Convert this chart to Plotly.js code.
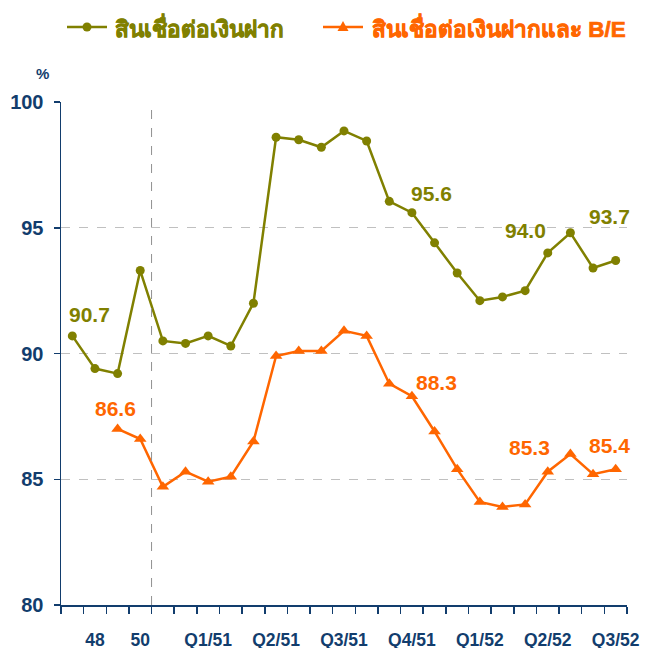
<!DOCTYPE html>
<html>
<head>
<meta charset="utf-8">
<script src="https://cdn.plot.ly/plotly-3.0.1.min.js"></script>
<style>
html,body{margin:0;padding:0;background:#fff;}
#chart{width:657px;height:648px;}
</style>
</head>
<body>
<div id="chart"></div>
<script>
// ---- data ----
var loanToDeposit = [90.7, 89.4, 89.2, 93.3, 90.5, 90.4, 90.7, 90.3, 92.0, 98.6, 98.5, 98.2, 98.85, 98.45, 96.05, 95.6, 94.4, 93.2, 92.1, 92.25, 92.5, 94.0, 94.8, 93.4, 93.7];
var loanToDepositBE = [null, null, 87.0, 86.6, 84.7, 85.3, 84.9, 85.1, 86.5, 89.9, 90.1, 90.1, 90.9, 90.7, 88.8, 88.3, 86.9, 85.4, 84.1, 83.9, 84.0, 85.3, 86.0, 85.2, 85.4];
var tickLabels = ['48', '50', 'Q1/51', 'Q2/51', 'Q3/51', 'Q4/51', 'Q1/52', 'Q2/52', 'Q3/52'];
var tickIndex = [1, 3, 6, 9, 12, 15, 18, 21, 24];
var seriesNames = ['สินเชื่อต่อเงินฝาก', 'สินเชื่อต่อเงินฝากและ B/E'];
var labelledGreen = [0, 15, 21, 24];
var labelledOrange = [3, 15, 21, 24];

var GREEN = '#808000', ORANGE = '#ff6600', NAVY = '#123d6d';
var FONT = 'Arial, "Liberation Sans", "Noto Sans", sans-serif';

var n = loanToDeposit.length;
var xs = [];
for (var i = 0; i < n; i++) xs.push(i);
var boundaries = [];
for (var j = 0; j <= n; j++) boundaries.push(j - 0.5);

var traces = [
  {x: xs, y: loanToDeposit, type: 'scatter', mode: 'lines+markers',
   name: seriesNames[0],
   line: {color: GREEN, width: 2.5}, marker: {color: GREEN, size: 9, symbol: 'circle'}},
  {x: xs, y: loanToDepositBE, type: 'scatter', mode: 'lines+markers',
   name: seriesNames[1],
   line: {color: ORANGE, width: 2.5}, marker: {color: ORANGE, size: 11, symbol: 'triangle-up'}},
  {x: tickIndex, y: tickIndex.map(function(){return null;}), xaxis: 'x2', yaxis: 'y',
   type: 'scatter', mode: 'markers', showlegend: false, hoverinfo: 'skip'}
];

// data-label offsets (pixels)
var gOff = {0: [17, 21], 15: [20, 19], 21: [-22, 22], 24: [-6, 44]};
var oOff = {3: [-25, 31], 15: [25, 14], 21: [-18, 24], 24: [-6, 24]};
var annotations = [];
labelledGreen.forEach(function(k){
  annotations.push({x: k, y: loanToDeposit[k], xref: 'x', yref: 'y', text: loanToDeposit[k].toFixed(1),
    showarrow: false, xshift: gOff[k][0], yshift: gOff[k][1], font: {family: FONT, size: 21, weight: 'bold', color: GREEN}});
});
labelledOrange.forEach(function(k){
  annotations.push({x: k, y: loanToDepositBE[k], xref: 'x', yref: 'y', text: loanToDepositBE[k].toFixed(1),
    showarrow: false, xshift: oOff[k][0], yshift: oOff[k][1], font: {family: FONT, size: 21, weight: 'bold', color: ORANGE}});
});
annotations.push({xref: 'paper', yref: 'paper', x: 0, y: 1, xanchor: 'right', yanchor: 'bottom',
  xshift: -10, yshift: 18, text: '%', showarrow: false, font: {family: FONT, size: 15, weight: 'bold', color: NAVY}});

// manual legend (pixel offsets from the top-left corner of the plot area)
var LEG_Y = 75;
var legendItems = [
  {name: seriesNames[0], color: GREEN, lineX: 6, textX: 52, symbol: 'circle'},
  {name: seriesNames[1], color: ORANGE, lineX: 262, textX: 309, symbol: 'triangle'}
];
var shapes = [{type: 'line', xref: 'x', yref: 'paper', x0: 3.5, x1: 3.5, y0: 0, y1: 1,
  line: {color: '#909090', width: 1, dash: 'dash'}}];
legendItems.forEach(function(it){
  shapes.push({type: 'line', xref: 'paper', yref: 'paper', xsizemode: 'pixel', ysizemode: 'pixel',
    xanchor: 0, yanchor: 1, x0: it.lineX, x1: it.lineX + 40, y0: LEG_Y, y1: LEG_Y,
    line: {color: it.color, width: 2.5}});
  var cx = it.lineX + 20;
  if (it.symbol === 'circle') {
    shapes.push({type: 'circle', xref: 'paper', yref: 'paper', xsizemode: 'pixel', ysizemode: 'pixel',
      xanchor: 0, yanchor: 1, x0: cx - 4.5, x1: cx + 4.5, y0: LEG_Y - 4.5, y1: LEG_Y + 4.5,
      fillcolor: it.color, line: {width: 0}});
  } else {
    shapes.push({type: 'path', xref: 'paper', yref: 'paper', xsizemode: 'pixel', ysizemode: 'pixel',
      xanchor: 0, yanchor: 1,
      path: 'M' + (cx - 5.5) + ',' + (LEG_Y - 4) + ' L' + (cx + 5.5) + ',' + (LEG_Y - 4) + ' L' + cx + ',' + (LEG_Y + 6) + ' Z',
      fillcolor: it.color, line: {width: 0}});
  }
  annotations.push({xref: 'paper', yref: 'paper', x: 0, y: 1, xanchor: 'left', yanchor: 'middle',
    xshift: it.textX, yshift: LEG_Y, text: it.name, showarrow: false,
    font: {family: FONT, size: 22.5, weight: 'bold', color: it.color}});
});

var layout = {
  width: 657, height: 648,
  margin: {l: 61, r: 30, t: 102, b: 43},
  paper_bgcolor: '#ffffff', plot_bgcolor: '#ffffff',
  font: {family: FONT, color: NAVY},
  showlegend: false,
  xaxis: {range: [-0.5, n - 0.5], tickvals: boundaries, ticktext: boundaries.map(function(){return '';}),
    showgrid: false, zeroline: false, showline: true, linecolor: NAVY, linewidth: 1.5,
    ticks: 'outside', ticklen: 7, tickcolor: NAVY, tickwidth: 1.5, fixedrange: true},
  xaxis2: {overlaying: 'x', anchor: 'y', side: 'bottom', range: [-0.5, n - 0.5],
    tickvals: tickIndex, ticktext: tickLabels,
    showgrid: false, zeroline: false, showline: false, ticks: '', ticklabelstandoff: 22,
    tickfont: {family: FONT, size: 17.5, weight: 'bold', color: NAVY}},
  yaxis: {range: [80, 100], tickvals: [80, 85, 90, 95, 100],
    ticktext: ['80', '85', '90', '95', '100'],
    showgrid: true, gridcolor: '#c0c0c0', griddash: 'dash', gridwidth: 1,
    zeroline: false, showline: true, linecolor: NAVY, linewidth: 1.5,
    ticks: 'outside', ticklen: 6, tickcolor: NAVY, tickwidth: 1.5, ticklabelstandoff: 6,
    tickfont: {family: FONT, size: 20, weight: 'bold', color: NAVY}, fixedrange: true},
  shapes: shapes,
  annotations: annotations
};

Plotly.newPlot('chart', traces, layout, {displayModeBar: false, staticPlot: true}).then(function(){
  // thicken Thai legend glyphs so they look bold like the reference
  var texts = document.querySelectorAll('.annotation-text');
  for (var t = 0; t < texts.length; t++) {
    var s = texts[t].textContent;
    if (s === seriesNames[0] || s === seriesNames[1]) {
      var c = (s === seriesNames[0]) ? GREEN : ORANGE;
      texts[t].style.stroke = c;
      texts[t].style.strokeWidth = '0.7px';
    }
  }
});
</script>
</body>
</html>
